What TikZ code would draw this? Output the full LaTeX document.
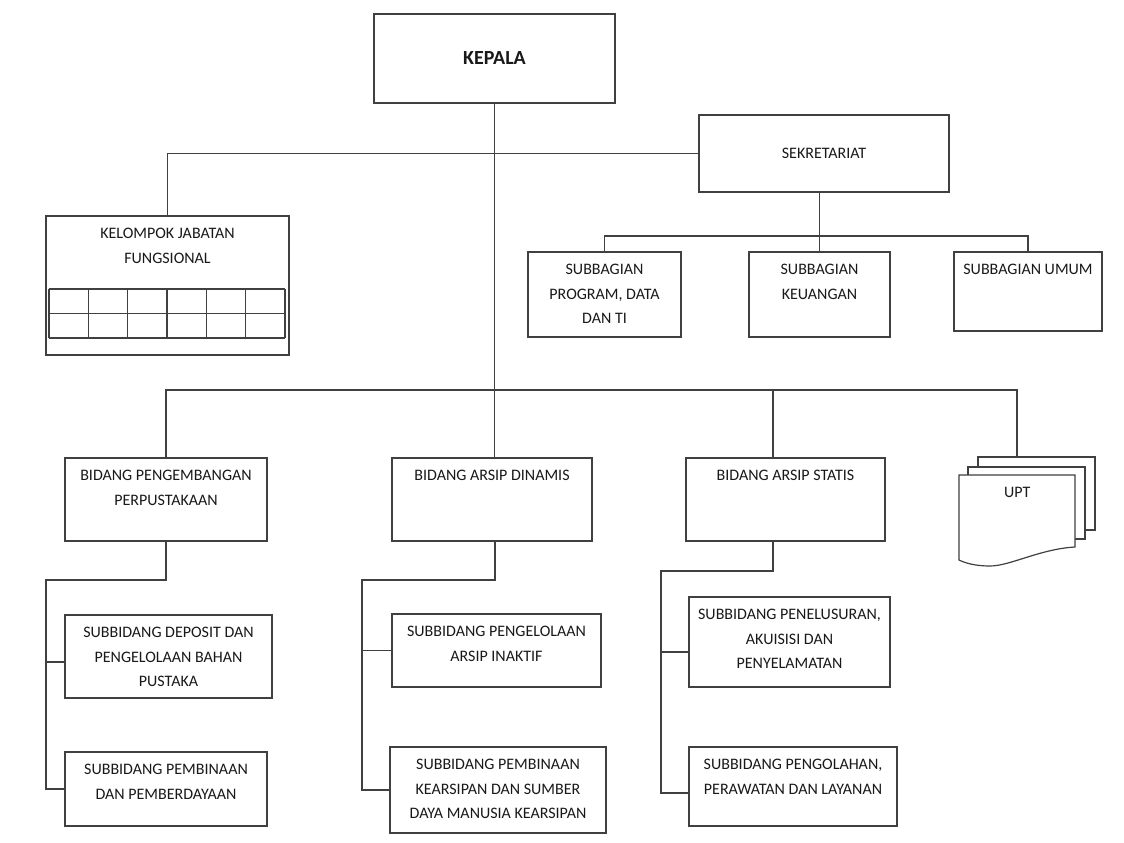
\documentclass[tikz,border=0pt]{standalone}
\usepackage{fontspec}
\setmainfont{Carlito}
\usetikzlibrary{positioning}

\tikzset{
  box/.style={draw=black!75, line width=1.2pt, anchor=north west, inner sep=0pt, outer sep=0pt},
  lbl/.style={inner sep=0pt, align=center, text=black!90, font=\fontsize{16}{24.5}\selectfont},
  link/.style={draw=black!75, line width=1.2pt},
}

\begin{document}
\begin{tikzpicture}[x=1pt, y=-1pt]
  \useasboundingbox[fill=white] (0,0) rectangle (1124,843);

  % top: kepala, sekretariat, fungsional
  \node[box, minimum width=241pt, minimum height=89pt] (kepala) at (374,14) {};
  \node[lbl, font=\fontsize{20}{24}\selectfont\bfseries] (kepala-t) at (kepala.center) {KEPALA};
  \node[box, minimum width=250pt, minimum height=77pt] (sekretariat) at (699,115) {};
  \node[lbl] (sekretariat-t) at (sekretariat.center) {SEKRETARIAT};
  \node[box, minimum width=243pt, minimum height=139pt] (kjf) at (46,216) {};
  \node[lbl, below=12pt of kjf.north] (kjf-t) {KELOMPOK JABATAN\\FUNGSIONAL};
  \foreach \r in {289,313.5,338}
    \draw[link] (49,\r) -- (285,\r);
  \foreach \c in {0,...,6}
    \draw[link] ({49+\c*39.33},289) -- ({49+\c*39.33},338);

  % subbagian
  \node[box, minimum width=153pt, minimum height=85pt] (sbprog) at (528,252) {};
  \node[lbl, below=12pt of sbprog.north] (sbprog-t) {SUBBAGIAN\\PROGRAM, DATA\\DAN TI};
  \node[box, minimum width=141pt, minimum height=85pt] (sbkeu) at (749,252) {};
  \node[lbl, below=12pt of sbkeu.north] (sbkeu-t) {SUBBAGIAN\\KEUANGAN};
  \node[box, minimum width=148pt, minimum height=79pt] (sbumum) at (954,252) {};
  \node[lbl, below=12pt of sbumum.north] (sbumum-t) {SUBBAGIAN UMUM};

  % bidang
  \node[box, minimum width=202pt, minimum height=83pt] (bdpeng) at (65,458) {};
  \node[lbl, below=12pt of bdpeng.north] (bdpeng-t) {BIDANG PENGEMBANGAN\\PERPUSTAKAAN};
  \node[box, minimum width=200pt, minimum height=83pt] (bddin) at (392,458) {};
  \node[lbl, below=12pt of bddin.north] (bddin-t) {BIDANG ARSIP DINAMIS};
  \node[box, minimum width=199pt, minimum height=83pt] (bdstat) at (686,458) {};
  \node[lbl, below=12pt of bdstat.north] (bdstat-t) {BIDANG ARSIP STATIS};

  % upt (stacked documents)
  \draw[link] (978,467) -- (978,457) -- (1095,457) -- (1095,530) -- (1085,530);
  \draw[link] (968,475) -- (968,467) -- (1085,467) -- (1085,539) -- (1075,539);
  \draw[link, fill=white] (959,560) -- (959,475) -- (1075,475) -- (1075,547)
    .. controls (1040,549) and (1010,566) .. (990,566)
    .. controls (975,566) and (965,563) .. (959,560) -- cycle;
  \node[anchor=north west, inner sep=0pt, minimum width=116pt, minimum height=72pt] (upt) at (959,475) {};
  \node[lbl, below=12pt of upt.north] (upt-t) {UPT};

  % subbidang
  \node[box, minimum width=207pt, minimum height=83pt] (sbdep) at (65,615) {};
  \node[lbl, below=12pt of sbdep.north] (sbdep-t) {SUBBIDANG DEPOSIT DAN\\PENGELOLAAN BAHAN\\PUSTAKA};
  \node[box, minimum width=202pt, minimum height=74pt] (sbpemb) at (65,752) {};
  \node[lbl, below=12pt of sbpemb.north] (sbpemb-t) {SUBBIDANG PEMBINAAN\\DAN PEMBERDAYAAN};
  \node[box, minimum width=209pt, minimum height=73pt] (sbinak) at (392,614) {};
  \node[lbl, below=12pt of sbinak.north] (sbinak-t) {SUBBIDANG PENGELOLAAN\\ARSIP INAKTIF};
  \node[box, minimum width=216pt, minimum height=86pt] (sbkear) at (390,747) {};
  \node[lbl, below=12pt of sbkear.north] (sbkear-t) {SUBBIDANG PEMBINAAN\\KEARSIPAN DAN SUMBER\\DAYA MANUSIA KEARSIPAN};
  \node[box, minimum width=201pt, minimum height=90pt] (sbtelus) at (689,597) {};
  \node[lbl, below=12pt of sbtelus.north] (sbtelus-t) {SUBBIDANG PENELUSURAN,\\AKUISISI DAN\\PENYELAMATAN};
  \node[box, minimum width=208pt, minimum height=79pt] (sbolah) at (689,747) {};
  \node[lbl, below=12pt of sbolah.north] (sbolah-t) {SUBBIDANG PENGOLAHAN,\\PERAWATAN DAN LAYANAN};

  % connectors
  \coordinate (bus) at (495,390);
  \coordinate (upt-top) at (1017,457);
  \coordinate (peng-spine) at (46,580);
  \coordinate (din-spine) at (362,580);
  \coordinate (stat-spine) at (661,571);

  \draw[link] (kepala.south) -- (kepala.south |- bddin.north);
  \draw[link] (kjf.north) |- (sekretariat.west);
  \draw[link] (sbkeu.north |- sekretariat.south) -- (sbkeu.north);
  \draw[link] (sbprog.north) -- ++(0,-16) -| (sbumum.north);
  \draw[link] (bdpeng.north) |- (upt-top |- bus) -- (upt-top);
  \draw[link] ([xshift=-12.5pt]bdstat.north) -- ([xshift=-12.5pt]bdstat.north |- bus);

  \draw[link] (bdpeng.south) |- (peng-spine) |- (sbpemb.west);
  \draw[link] ([yshift=-5.5pt]sbdep.west) -- ([yshift=-5.5pt]sbdep.west -| peng-spine);
  \draw[link] (bus |- bddin.south) |- (din-spine) |- (sbkear.west);
  \draw[link] (sbinak.west) -- (sbinak.west -| din-spine);
  \draw[link] ([xshift=-12.5pt]bdstat.south) |- (stat-spine) |- ([yshift=-6.5pt]sbolah.west);
  \draw[link] ([yshift=-10pt]sbtelus.west) -- ([yshift=-10pt]sbtelus.west -| stat-spine);
\end{tikzpicture}
\end{document}
